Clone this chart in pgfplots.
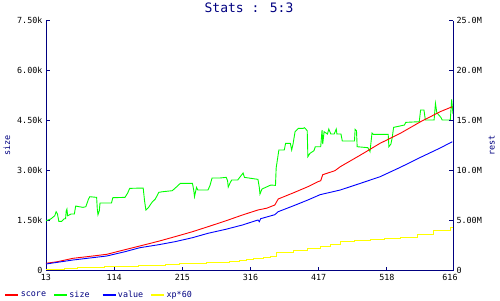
\documentclass[border=0pt]{standalone}
\usepackage{fontspec}
\setmainfont{DejaVu Sans Mono}
\usepackage{pgfplots}
\pgfplotsset{compat=1.18}
\definecolor{navy}{RGB}{0,0,128}
\definecolor{cred}{RGB}{255,0,0}
\definecolor{cgreen}{RGB}{0,255,0}
\definecolor{cblue}{RGB}{0,0,255}
\definecolor{cyellow}{RGB}{255,255,0}
\begin{document}
\begin{tikzpicture}
\useasboundingbox (0pt,0pt) rectangle (500pt,300pt);
\node[text=navy, font=\fontsize{13}{13}\selectfont] at (249pt,292pt) {Stats : 5:3};
\pgfplotsset{
  common/.style={
    at={(46pt,29.3pt)}, anchor=south west, scale only axis,
    width=407pt, height=250pt,
    xmin=13, xmax=616,
    axis line style={navy, line width=1pt},
    tick style={navy, line width=1pt},
    tick align=inside, major tick length=4pt,
    tick label style={font=\fontsize{8.4}{9}\selectfont, text=black},
    /pgf/number format/assume math mode=true,
    label style={font=\fontsize{8.5}{9}\selectfont, text=navy},
    clip=false,
  }
}
\begin{axis}[common,
  ymin=0, ymax=7500,
  axis x line*=bottom, axis y line*=left,
  xtick={13,114,215,316,417,518,616},
  xticklabels={13,114,215,316,417,518,{\hspace*{-6pt}616}},
  xticklabel style={yshift=-0.5pt},
  ytick={0,1500,3000,4500,6000,7500},
  yticklabels={0,1.50k,3.00k,4.50k,6.00k,7.50k},
  ylabel={size},
]
\addplot[cgreen, line width=0.9pt] coordinates {
(13,1500)(20,1550)(26,1650)(28,1770)(30,1700)(32,1480)(36,1480)(40,1560)(42,1560)(43,1800)(44,1850)(45,1650)(50,1700)(55,1700)(57,1940)(62,1920)(68,1900)(72,1920)(76,2150)(78,2220)(88,2200)(89,1850)(90,1680)(92,1800)(93,2030)(110,2030)(112,2190)(130,2200)(134,2330)(137,2470)(157,2480)(159,2100)(161,1820)(165,1900)(170,2050)(175,2150)(180,2350)(186,2370)(200,2400)(204,2470)(212,2620)(230,2620)(232,2400)(233,2220)(236,2500)(238,2420)(253,2420)(256,2560)(259,2780)(270,2780)(280,2800)(282,2700)(283,2510)(285,2600)(288,2720)(297,2720)(300,2800)(305,2930)(307,2800)(327,2740)(329,2500)(330,2300)(333,2450)(346,2570)(353,2560)(354,3080)(358,3620)(366,3620)(368,3820)(375,3820)(377,3620)(379,3800)(382,4170)(387,4270)(394,4270)(396,4290)(400,4200)(401,3420)(404,3520)(410,3600)(412,3720)(420,3720)(422,4220)(423,3800)(425,4170)(430,4100)(432,4250)(435,4100)(440,4100)(443,4250)(444,4100)(450,4100)(452,3890)(470,3890)(471,4240)(473,4200)(474,3720)(490,3690)(493,3570)(496,4130)(498,4090)(520,4090)(521,3720)(524,3800)(526,4000)(528,4300)(544,4370)(546,4450)(566,4470)(568,4820)(573,4820)(575,4520)(588,4520)(590,5020)(592,4740)(598,4600)(600,4520)(612,4520)(614,5140)(616,4700)
};
\end{axis}
\begin{axis}[common,
  ymin=0, ymax=25,
  axis x line=none, axis y line*=right,
  ytick={0,5,10,15,20,25},
  yticklabels={{\raisebox{1.5pt}{0}},5.00M,10.0M,15.0M,20.0M,25.0M},
  ylabel={rest},
  legend columns=4,
  legend style={at={(-0.1032,-0.0972)}, anchor=west, draw=none, fill=none,
    inner sep=0pt, font=\fontsize{8.4}{9}\selectfont, text=navy,
    nodes={inner sep=1pt, text width=31pt, align=left},
    /tikz/every even column/.append style={column sep=0pt}},
  legend image code/.code={\draw[#1, line width=2.6pt] (0pt,0pt) -- (13pt,0pt);},
]
\addplot[cred, line width=0.9pt] coordinates {
(13,0.74)(30,0.9)(53,1.24)(80,1.45)(103,1.64)(130,2.1)(152,2.47)(180,2.95)(204,3.4)(230,3.9)(253,4.4)(280,5.0)(304,5.57)(327,6.07)(340,6.25)(352,6.57)(357,7.17)(380,7.8)(401,8.4)(416,8.9)(420,9.0)(423,9.6)(441,10.0)(449,10.4)(479,11.57)(508,12.74)(538,13.74)(568,14.9)(597,15.9)(615,16.4)
};
\addlegendentry{score}
\addlegendimage{cgreen}
\addlegendentry{size}
\addplot[cblue, line width=0.9pt] coordinates {
(13,0.67)(53,1.07)(103,1.47)(130,1.9)(152,2.3)(180,2.6)(204,2.9)(230,3.3)(253,3.74)(280,4.15)(304,4.57)(327,5.07)(329,4.9)(331,5.2)(352,5.6)(357,5.9)(380,6.5)(401,7.07)(419,7.6)(449,8.07)(479,8.74)(508,9.4)(538,10.34)(568,11.34)(597,12.27)(615,12.9)
};
\addlegendentry{value}
\addplot[cyellow, line width=0.9pt, const plot] coordinates {
(13,0.17)(40,0.22)(60,0.28)(80,0.33)(100,0.4)(125,0.45)(150,0.5)(170,0.56)(190,0.62)(210,0.68)(230,0.74)(250,0.8)(270,0.85)(285,0.92)(300,1.0)(310,1.08)(320,1.2)(335,1.3)(345,1.47)(355,1.84)(379,2.07)(400,2.2)(419,2.4)(435,2.6)(449,2.9)(470,3.0)(493,3.14)(515,3.24)(538,3.34)(563,3.64)(587,4.07)(612,4.34)(616,4.34)
};
\addlegendentry{xp*60}
\end{axis}
\end{tikzpicture}
\end{document}
